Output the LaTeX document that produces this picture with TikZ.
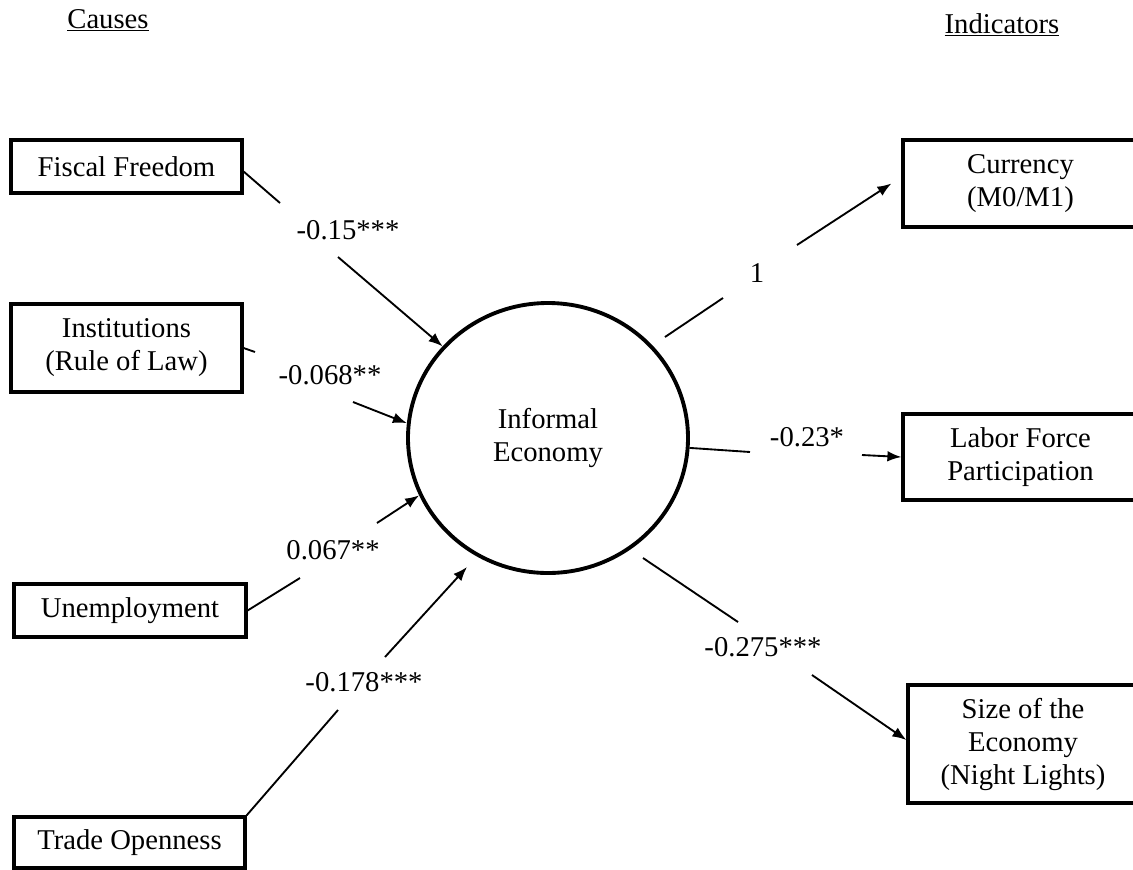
\documentclass[tikz,border=0pt]{standalone}
\usepackage{fontspec}
\setmainfont{Liberation Serif}
\usetikzlibrary{arrows.meta,shapes.geometric}
\begin{document}
\begin{tikzpicture}[x=0.75pt,y=-0.75pt,
  every node/.style={font=\fontsize{21.5}{24.75}\selectfont},
  box/.style={draw, line width=2.4pt, inner sep=0pt, align=center},
  conn/.style={line width=1.4pt},
  arr/.style={conn, -{Latex[length=10.5pt,width=8pt]}},
  lbl/.style={inner sep=0pt}]
\useasboundingbox (0,0) rectangle (1133,869);
\clip (0,0) rectangle (1133,869);

% headers
\node[anchor=base] (causes) at (108,28) {\underline{Causes}};
\node[anchor=base] (indic) at (1002,33) {\underline{Indicators}};

% cause boxes
\node[box, minimum width=173.25pt, minimum height=39.75pt] (ff) at (126.5,166.5) {Fiscal Freedom};
\node[box, minimum width=173.25pt, minimum height=66pt] (inst) at (126.5,348) {Institutions\\(Rule of Law)};
\node[box, minimum width=174pt, minimum height=39.75pt] (unemp) at (130,610.5) {Unemployment};
\node[box, minimum width=173.25pt, minimum height=38.25pt] (trade) at (129.5,842.5) {Trade Openness};

% indicator boxes
\node[box, minimum width=176.25pt, minimum height=65.25pt] (curr) at (1020.5,183.5) {Currency\\(M0/M1)};
\node[box, minimum width=176.25pt, minimum height=64.5pt] (labor) at (1020.5,457) {Labor Force\\Participation};
\node[box, minimum width=172.5pt, minimum height=88.5pt] (size) at (1023,744) {Size of the\\Economy\\(Night Lights)};

% latent variable
\node[ellipse, draw, line width=2.9pt, minimum width=210pt, minimum height=202.5pt, inner sep=0pt, align=center] (ie) at (548,438) {Informal\\Economy};

% labels
\node[lbl] (l1) at (348,230) {-0.15***};
\node[lbl] (l2) at (330,375) {-0.068**};
\node[lbl] (l3) at (333,550) {0.067**};
\node[lbl] (l4) at (364,682) {-0.178***};
\node[lbl] (r1) at (757,273) {1};
\node[lbl] (r2) at (807,437) {-0.23*};
\node[lbl] (r3) at (763,647) {-0.275***};

% gap coordinates
\coordinate (ffA) at (280,203);
\coordinate (ffB) at (338,257);
\coordinate (inA) at (255,352);
\coordinate (inB) at (353,402);
\coordinate (unA) at (300,578);
\coordinate (unB) at (377,523);
\coordinate (trA) at (338,710);
\coordinate (trB) at (385,657);
\coordinate (trC) at (467,567);
\coordinate (cuA) at (665,337);
\coordinate (cuB) at (723,298);
\coordinate (cuC) at (797,245);
\coordinate (laA) at (750,452);
\coordinate (laB) at (862,455);
\coordinate (szA) at (643,558);
\coordinate (szB) at (738,622);
\coordinate (szC) at (812,675);

% cause connectors
\draw[conn] ([yshift=-3.75pt]ff.east) -- (ffA);
\draw[arr] (ffB) -- (ie.139);
\draw[conn] (inst.east) -- (inA);
\draw[arr] (inB) -- (ie.174);
\draw[conn] (unemp.east) -- (unA);
\draw[arr] (unB) -- (ie.204);
\draw[conn] (trade.north east) -- (trA);
\draw[arr] (trB) -- (trC);

% indicator connectors
\draw[conn] (cuA) -- (cuB);
\draw[arr] (cuC) -- ([xshift=-7.5pt]curr.west);
\draw[conn] (ie.356) -- (laA);
\draw[arr] (laB) -- (labor.west);
\draw[conn] (szA) -- (szB);
\draw[arr] (szC) -- ([yshift=3pt]size.west);
\end{tikzpicture}
\end{document}
